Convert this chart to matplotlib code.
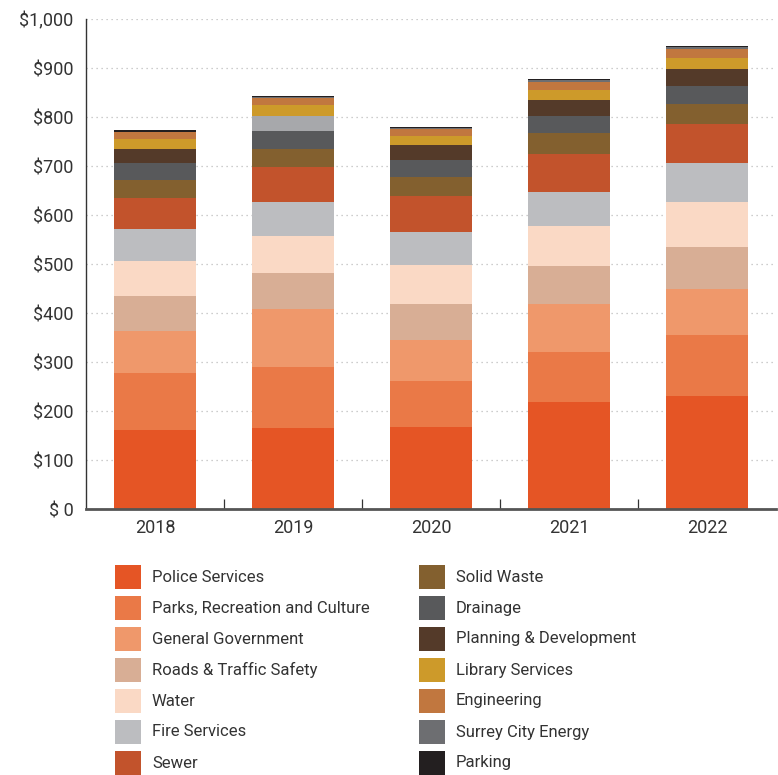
import matplotlib
matplotlib.use("Agg")
import matplotlib.pyplot as plt
from matplotlib.patches import Rectangle
import numpy as np

plt.rcParams['font.family'] = ['Roboto', 'DejaVu Sans']

years = ["2018", "2019", "2020", "2021", "2022"]

categories = ["Police Services", "Parks, Recreation and Culture", "General Government",
              "Roads & Traffic Safety", "Water", "Fire Services", "Sewer",
              "Solid Waste", "Drainage", "Planning & Development", "Library Services",
              "Engineering", "Surrey City Energy", "Parking"]

police = [162, 166, 168, 219, 231]
parks = [116, 124.5, 94, 102, 124.5]
general_gov = [86, 118, 84, 98, 94]
roads = [71, 73.5, 73.5, 77.5, 86]
water = [71.5, 75.5, 79.5, 81.5, 92]
fire = [65, 69, 67.5, 69.5, 79.5]
sewer = [64.5, 71.5, 73.5, 77.5, 79.5]
solid_waste = [35.5, 37.5, 39, 43, 41]
drainage = [34.5, 36.5, 34.5, 34.5, 36.5]
planning = [28.5, 30.5, 30.5, 32.5, 34.5]
library = [20.5, 22.5, 17, 20.5, 22.5]
engineering = [14.5, 14.5, 14.5, 16.5, 18.5]
surrey_energy = [0, 1.5, 3.5, 4, 4]
parking = [4, 3, 2, 2, 2]

series = [police, parks, general_gov, roads, water, fire, sewer, solid_waste,
          drainage, planning, library, engineering, surrey_energy, parking]

colors = ["#e55525", "#ea7947", "#ef986b", "#d8ae95", "#fad9c5", "#bcbdc0", "#c2532c",
          "#83602f", "#58595b", "#543a29", "#cd9a2a", "#c1773f", "#6d6e71", "#231f20"]

# In the source, the 2019 Planning & Development segment is drawn in light gray
override = {(9, 1): "#a7a8ab"}

yticks = [0, 100, 200, 300, 400, 500, 600, 700, 800, 900, 1000]
ytick_labels = ["$ 0", "$100", "$200", "$300", "$400", "$500", "$600", "$700", "$800", "$900", "$1,000"]

fig = plt.figure(figsize=(7.78, 7.75), dpi=100)
ax = fig.add_axes([86/778, 1-509.3/775, 690/778, 490/775])

x = np.arange(len(years))
bottom = np.zeros(len(years))
for i, vals in enumerate(series):
    vals = np.array(vals, dtype=float)
    cols = [override.get((i, j), colors[i]) for j in range(len(years))]
    ax.bar(x, vals, width=0.6, bottom=bottom, color=cols, linewidth=0, zorder=2)
    bottom += vals

ax.set_xlim(-0.5, len(years) - 0.5)
ax.set_ylim(0, 1000)
ax.set_yticks(yticks)
ax.set_yticklabels(ytick_labels)
ax.yaxis.grid(True, linestyle=(0, (1, 3)), color="#bdbdbd", linewidth=0.9, zorder=0)
ax.set_axisbelow(True)

ax.set_xticks(x)
ax.set_xticklabels(years)
ax.set_xticks(np.arange(len(years) - 1) + 0.5, minor=True)
ax.tick_params(axis='x', which='major', length=0, pad=7, labelsize=13, labelcolor="#333333")
ax.tick_params(axis='x', which='minor', direction='in', length=7, width=0.9, color="#333333")
ax.tick_params(axis='y', length=0, pad=9, labelsize=13, labelcolor="#333333")

for s in ["top", "right"]:
    ax.spines[s].set_visible(False)
ax.spines["left"].set_color("#333333")
ax.spines["left"].set_linewidth(1.0)
ax.spines["bottom"].set_color("#555555")
ax.spines["bottom"].set_linewidth(2.0)

# Legend in two columns of seven
W, H = 778, 775
for k, (name, col) in enumerate(zip(categories, colors)):
    c = k // 7
    r = k % 7
    px = 115 if c == 0 else 419
    tx = 152 if c == 0 else 456
    yc = 577 + r * 31
    fig.add_artist(Rectangle((px / W, 1 - (yc + 12) / H), 26 / W, 24 / H,
                             transform=fig.transFigure, color=col, linewidth=0))
    fig.text(tx / W, 1 - yc / H, name, ha="left", va="center", fontsize=12, color="#333333")

fig.savefig("out.png", dpi=100)
